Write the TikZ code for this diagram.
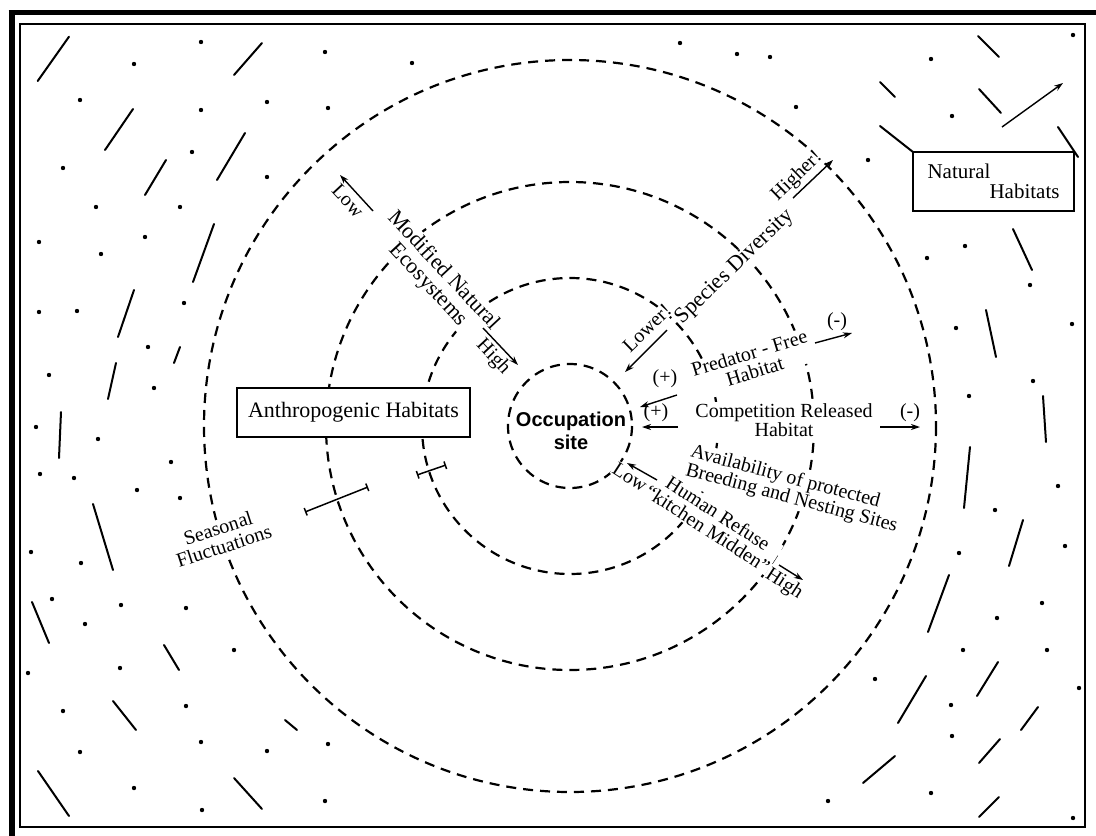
\documentclass[tikz,border=0pt]{standalone}
\usepackage{fontspec}
\setmainfont{Liberation Serif}
\setsansfont{Liberation Sans}
\usetikzlibrary{arrows.meta}
\begin{document}
\begin{tikzpicture}[x=1pt,y=-1pt,
  zone/.style={line width=2.2pt, dash pattern=on 10pt off 7pt},
  hatchline/.style={line width=2pt, line cap=round},
  ptr/.style={line width=1.4pt, -{Stealth[length=9pt,width=6pt]}},
  interval/.style={line width=1.5pt, {Bar[width=8pt]}-{Bar[width=8pt]}},
  lbl/.style={font=\fontsize{20pt}{19pt}\selectfont, inner sep=1pt, fill=white},
  biglbl/.style={font=\fontsize{22pt}{21pt}\selectfont, inner sep=1pt, fill=white},
  sign/.style={font=\fontsize{20pt}{19pt}\selectfont, inner sep=0pt},
  habitatbox/.style={draw, line width=1.2pt, fill=white, inner sep=0pt},
]
\useasboundingbox (0,0) rectangle (1096,836);
\fill[white] (0,0) rectangle (1096,836);

% double frame
\draw[line width=1.5pt] (20,24) rectangle (1085,827);
\draw[line width=5pt] (8.5,12.5) -- (1096,12.5);
\draw[line width=6pt] (11.5,10) -- (11.5,836);

% natural habitat texture: dots
\foreach \x/\y in {201/42,134/64,80/100,201/110,267/102,192/152,63/168,267/177,
  325/52,412/63,328/108,680/43,737/54,770/57,796/107,
  1073/35,931/59,952/116,868/160,
  96/207,180/207,39/242,145/237,101/254,39/312,77/311,184/303,148/347,49/375,
  154/388,36/427,98/439,171/462,40/474,74/478,137/490,180/498,31/552,81/563,
  52/599,121/605,186/608,85/624,234/650,28/673,120/668,63/711,186/706,201/742,
  267/751,328/744,80/752,134/788,325/801,202/810,
  965/246,927/258,1030/285,956/328,1072/324,1033/381,969/396,1058/486,995/510,
  1065/546,959/553,1042/603,997/618,
  963/650,1047/650,875/679,1079/688,951/705,952/736,828/801,931/793,1073/818}
  \fill (\x,\y) circle[radius=2.2];

% natural habitat texture: short strokes
\foreach \a/\b/\c/\d in {37.7/81/69/36.7,234/75/262/43,105/150/133/109,217/180/245/133,
  145/195/166/160,193/282/214/224,118/337/134/290,174/363/180/347,108/399/116/363,
  59/458/61/412,93/504/113/570,32/602/49/643,164/645/179/670,113/701/136/730,
  285/720/297/730,38/771/69/816,234/778/262/809,
  978/36/999/57,880/82/895/97,979/89/1001/113,880/126/913/152,1058/127/1078/157,
  1013/229/1032/270,986/310/996/357,1043/396/1046/442,970/447/964/508,
  1023/520/1009/566,949/575/928/632,998/662/977/696,926/676/898/723,
  1038/707/1021/730,1000/739/979/763,895/756/863/783,999/797/979/817}
  \draw[hatchline] (\a,\b) -- (\c,\d);

% concentric zones around the occupation site
\coordinate (hub) at (570,426);
\draw[zone] (hub) circle[radius=62];
\draw[zone] (hub) circle[radius=148];
\draw[zone] (hub) circle[radius=244];
\draw[zone] (hub) circle[radius=366];

% habitat boxes
\node[habitatbox, font=\fontsize{22pt}{21pt}\selectfont, minimum width=233pt, minimum height=49pt]
  (anthro) at (353.5,412.5) {Anthropogenic Habitats};
\node[habitatbox, font=\fontsize{21pt}{20pt}\selectfont, align=left, minimum width=161pt, minimum height=59pt]
  (natural) at (993.5,181.5) {Natural\\\hspace*{62pt}Habitats};

% centre
\node[font=\sffamily\bfseries\fontsize{20pt}{23pt}\selectfont, align=center, inner sep=0pt]
  (site) at (571,431) {Occupation\\site};

% species diversity gradient
\node[biglbl, rotate=44] (sd) at (735,267) {Species Diversity};
\node[lbl, rotate=44] (lower) at (647,328) {Lower!};
\node[lbl, rotate=44] (higher) at (797,176) {Higher!};
\coordinate (lowerA) at (667,330); \coordinate (lowerB) at (625,372);
\coordinate (higherA) at (793,198); \coordinate (higherB) at (833,160);
\draw[ptr] (lowerA) -- (lowerB);
\draw[ptr] (higherA) -- (higherB);

% modified natural ecosystems gradient
\node[biglbl, align=center, rotate=-47] (mne) at (436,278) {Modified Natural\\Ecosystems};
\node[lbl, rotate=-47] (mlow) at (348,201) {Low};
\node[lbl, rotate=-47] (mhigh) at (493,357) {High};
\coordinate (mlowA) at (373,211); \coordinate (mlowB) at (340,175);
\coordinate (mhighA) at (483,328); \coordinate (mhighB) at (518,365);
\draw[ptr] (mlowA) -- (mlowB);
\draw[ptr] (mhighA) -- (mhighB);

% predator-free habitat
\node[lbl, align=center, rotate=17] (pfh) at (752,362) {Predator - Free\\Habitat};
\node[sign] (pplus) at (665,379) {(+)};
\node[sign] (pminus) at (837,322) {(-)};
\coordinate (pinA) at (677,395); \coordinate (pinB) at (640,407);
\coordinate (poutA) at (815,343); \coordinate (poutB) at (852,333);
\draw[ptr] (pinA) -- (pinB);
\draw[ptr] (poutA) -- (poutB);

% competition released habitat
\node[lbl, align=center] (crh) at (784,420) {Competition Released\\Habitat};
\node[sign] (cplus) at (656,413) {(+)};
\node[sign] (cminus) at (910,413) {(-)};
\coordinate (cinA) at (678,427); \coordinate (cinB) at (642,427);
\coordinate (coutA) at (880,427); \coordinate (coutB) at (920,427);
\draw[ptr] (cinA) -- (cinB);
\draw[ptr] (coutA) -- (coutB);

% protected breeding sites
\node[lbl, align=left, rotate=-15] (apb) at (794,489.5) {Availability of protected\\Breeding and Nesting Sites};

% human refuse gradient
\node[lbl, align=center, rotate=-33] (hr) at (713,521) {Human Refuse\\``kitchen Midden''};
\node[lbl, rotate=-33] (hlow) at (630,477) {Low};
\node[lbl, rotate=-33] (hhigh) at (784,584) {High};
\coordinate (hlowA) at (657,480); \coordinate (hlowB) at (627,463);
\coordinate (hhighA) at (779,565); \coordinate (hhighB) at (803,580);
\draw[ptr] (hlowA) -- (hlowB);
\draw[ptr] (hhighA) -- (hhighB);

% seasonal fluctuation of zone boundaries
\node[lbl, align=center, rotate=18] (sf) at (221,537) {Seasonal\\Fluctuations};
\coordinate (sfaA) at (305,512); \coordinate (sfaB) at (368,487);
\coordinate (sfbA) at (417,475); \coordinate (sfbB) at (446,465);
\draw[interval] (sfaA) -- (sfaB);
\draw[interval] (sfbA) -- (sfbB);

% arrow in the natural habitats
\coordinate (natA) at (1002,127); \coordinate (natB) at (1063,83);
\draw[ptr] (natA) -- (natB);
\end{tikzpicture}
\end{document}
